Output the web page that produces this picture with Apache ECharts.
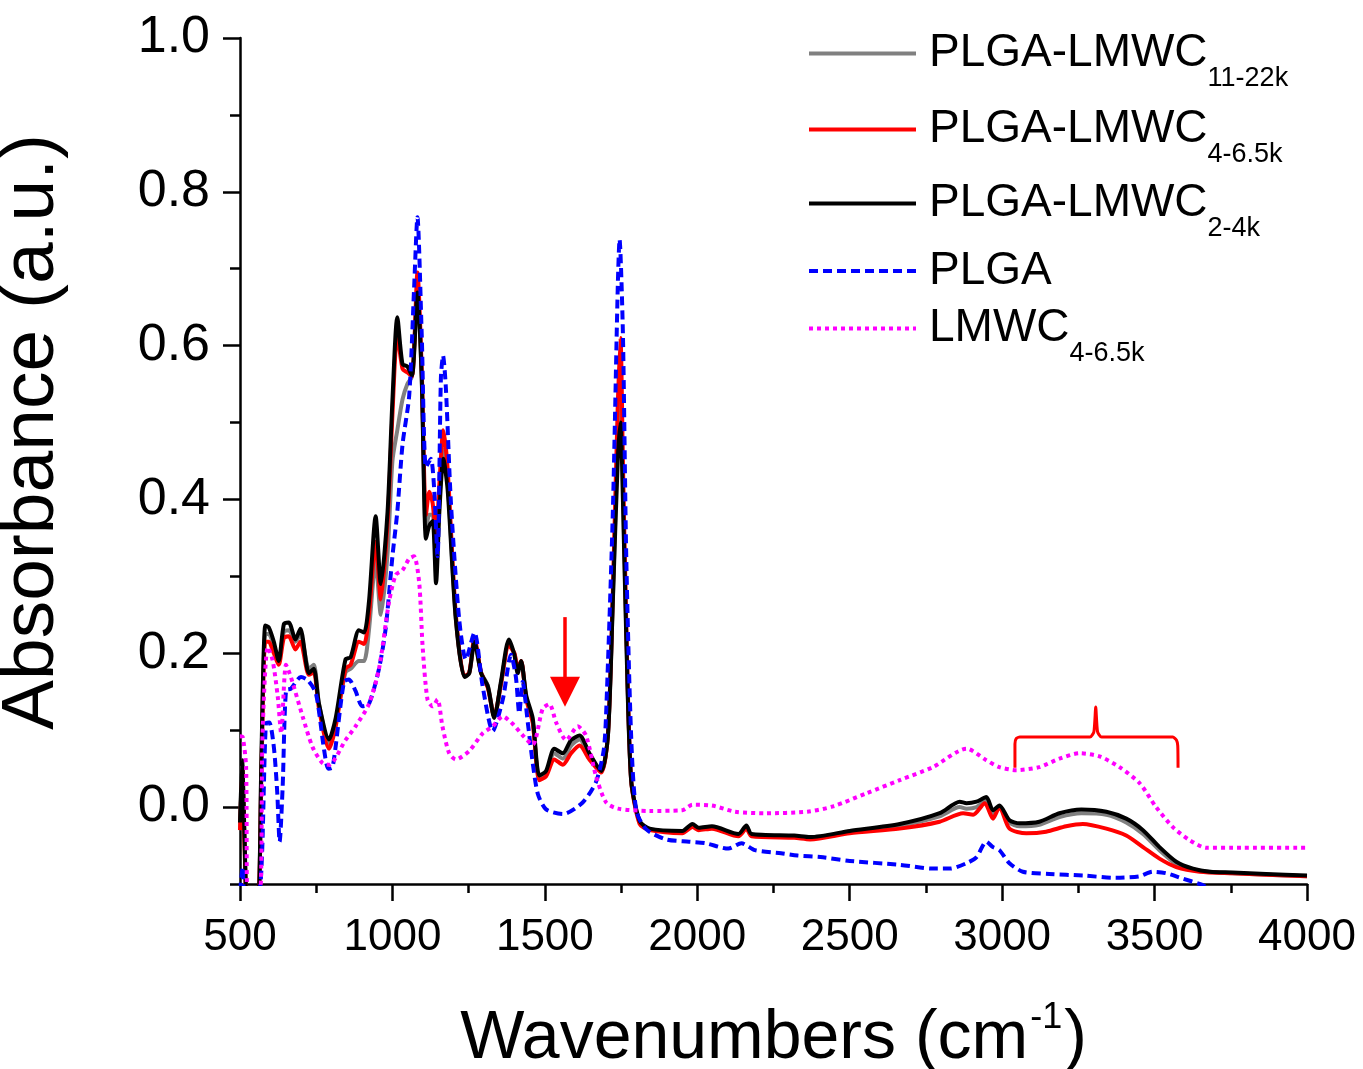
<!DOCTYPE html>
<html>
<head>
<meta charset="utf-8">
<script src="https://cdn.jsdelivr.net/npm/echarts@6/dist/echarts.min.js"></script>
<style>html,body{margin:0;padding:0;background:#fff}#c{width:1363px;height:1069px}</style>
</head>
<body>
<div id="c"></div>
<script>
// ---- data (wavenumber cm^-1, absorbance a.u.) ----
const wnBlack = [500,507,515,523,545,561,570,583,594,611,627,644,660,682,698,726,742,759,792,814,846,863,890,907,923,945,962,984,1000,1016,1033,1049,1064,1082,1096,1110,1121,1132,1143,1154,1167,1181,1208,1236,1252,1269,1291,1313,1334,1356,1382,1400,1411,1422,1439,1460,1482,1504,1531,1559,1586,1614,1646,1685,1707,1723,1739,1748,1756,1767,1783,1811,1844,1951,1984,2005,2048,2135,2161,2178,2318,2370,2500,2664,2795,2861,2883,2916,2948,2970,2991,3024,3057,3122,3188,3260,3342,3407,3462,3516,3571,3626,3681,3756,3866,4000];
const absBlack = [-0.02,0.061,-0.04,-0.13,-0.16,-0.13,0.06,0.236,0.234,0.215,0.19,0.238,0.24,0.218,0.232,0.174,0.18,0.134,0.088,0.116,0.192,0.195,0.23,0.227,0.267,0.378,0.29,0.384,0.529,0.637,0.576,0.573,0.561,0.669,0.558,0.349,0.366,0.372,0.291,0.384,0.453,0.413,0.244,0.169,0.174,0.215,0.174,0.157,0.116,0.163,0.218,0.198,0.174,0.19,0.145,0.116,0.041,0.047,0.076,0.07,0.087,0.093,0.07,0.047,0.093,0.267,0.45,0.50,0.40,0.22,0.035,-0.018,-0.028,-0.031,-0.022,-0.027,-0.025,-0.035,-0.024,-0.035,-0.037,-0.039,-0.031,-0.022,-0.008,0.007,0.005,0.007,0.013,-0.004,0.002,-0.017,-0.021,-0.019,-0.008,-0.003,-0.006,-0.015,-0.030,-0.052,-0.071,-0.080,-0.084,-0.085,-0.087,-0.089];

const wnRed = [500,507,515,523,545,561,570,583,594,611,627,644,660,682,698,726,742,759,792,814,846,863,890,907,923,945,962,984,1000,1016,1033,1049,1064,1082,1096,1110,1121,1132,1143,1154,1167,1181,1208,1236,1252,1269,1291,1313,1334,1356,1382,1400,1411,1422,1439,1460,1482,1504,1531,1559,1586,1614,1646,1685,1707,1723,1739,1748,1756,1767,1783,1811,1844,1951,1984,2005,2048,2135,2161,2178,2318,2370,2500,2664,2795,2872,2905,2943,2970,2991,3024,3079,3144,3210,3265,3342,3407,3462,3516,3571,3648,3756,4000];
const absRed = [-0.03,0.05,-0.05,-0.13,-0.16,-0.13,0.04,0.215,0.215,0.2,0.185,0.22,0.222,0.205,0.215,0.172,0.175,0.128,0.076,0.105,0.18,0.185,0.215,0.212,0.25,0.345,0.27,0.37,0.51,0.615,0.57,0.565,0.56,0.695,0.57,0.38,0.41,0.395,0.35,0.42,0.49,0.44,0.25,0.17,0.175,0.22,0.175,0.155,0.118,0.16,0.21,0.2,0.18,0.19,0.14,0.11,0.035,0.04,0.062,0.055,0.07,0.08,0.062,0.045,0.095,0.28,0.52,0.61,0.45,0.24,0.035,-0.022,-0.03,-0.034,-0.026,-0.03,-0.028,-0.038,-0.028,-0.038,-0.04,-0.042,-0.034,-0.028,-0.019,-0.008,-0.010,0.005,-0.015,0.0,-0.028,-0.034,-0.032,-0.025,-0.022,-0.028,-0.037,-0.052,-0.067,-0.078,-0.084,-0.086,-0.09];

const wnGray = [500,507,515,523,545,561,570,583,594,611,627,644,660,682,698,726,742,759,792,814,846,863,890,907,923,945,962,984,1000,1016,1033,1049,1064,1082,1096,1110,1121,1132,1143,1154,1167,1181,1208,1236,1252,1269,1291,1313,1334,1356,1382,1400,1411,1422,1439,1460,1482,1504,1531,1559,1586,1614,1646,1685,1707,1723,1739,1748,1756,1767,1783,1811,1844,1951,1984,2005,2048,2135,2161,2178,2318,2370,2500,2664,2795,2861,2883,2916,2948,2970,2991,3024,3057,3122,3188,3260,3342,3407,3462,3516,3571,3626,3681,3756,3866,4000];
const absGray = [-0.03,0.055,-0.05,-0.13,-0.16,-0.13,0.05,0.225,0.225,0.21,0.19,0.228,0.23,0.215,0.225,0.18,0.185,0.135,0.082,0.11,0.175,0.18,0.19,0.19,0.23,0.32,0.25,0.33,0.45,0.49,0.53,0.55,0.56,0.665,0.56,0.36,0.38,0.38,0.32,0.4,0.465,0.425,0.245,0.17,0.174,0.215,0.175,0.158,0.117,0.16,0.212,0.2,0.178,0.19,0.142,0.112,0.038,0.044,0.07,0.063,0.08,0.088,0.066,0.046,0.094,0.27,0.48,0.55,0.42,0.23,0.035,-0.02,-0.029,-0.032,-0.024,-0.028,-0.026,-0.036,-0.026,-0.036,-0.038,-0.04,-0.032,-0.024,-0.012,0.0,-0.002,0.0,0.009,-0.008,0.0,-0.02,-0.025,-0.023,-0.013,-0.008,-0.01,-0.02,-0.035,-0.056,-0.074,-0.081,-0.084,-0.086,-0.088,-0.09];

const wnPLGA = [500,509,515,545,569,585,596,611,622,630,640,651,667,700,722,749,776,790,804,841,857,879,901,923,956,978,1000,1016,1033,1055,1071,1082,1096,1110,1126,1137,1148,1159,1166,1175,1192,1219,1241,1269,1296,1329,1362,1389,1405,1416,1427,1444,1460,1477,1504,1559,1624,1668,1693,1701,1723,1739,1745,1756,1767,1783,1800,1833,1898,1973,2027,2102,2145,2189,2275,2329,2404,2500,2664,2773,2828,2883,2916,2948,2970,2991,3024,3068,3155,3265,3374,3450,3494,3538,3593,3648,3700,4000];
const absPLGA = [-0.11,-0.078,-0.12,-0.15,-0.09,0.109,0.11,0.078,0.02,-0.045,0.027,0.152,0.154,0.169,0.165,0.148,0.074,0.05,0.052,0.163,0.166,0.151,0.131,0.134,0.18,0.233,0.326,0.384,0.471,0.535,0.674,0.767,0.616,0.442,0.453,0.413,0.326,0.558,0.587,0.547,0.395,0.244,0.192,0.227,0.157,0.099,0.14,0.198,0.169,0.122,0.163,0.11,0.058,0.017,-0.003,-0.009,0.006,0.033,0.074,0.122,0.384,0.674,0.738,0.616,0.326,0.093,-0.005,-0.029,-0.042,-0.045,-0.047,-0.054,-0.047,-0.056,-0.06,-0.063,-0.065,-0.07,-0.075,-0.08,-0.08,-0.073,-0.065,-0.045,-0.052,-0.056,-0.073,-0.084,-0.087,-0.089,-0.092,-0.09,-0.084,-0.086,-0.093,-0.1,-0.108,-0.12];

const wnLMWC = [500,509,520,525,563,574,591,607,624,635,651,667,706,738,771,792,846,879,923,956,989,1011,1033,1055,1071,1088,1099,1115,1132,1148,1164,1186,1208,1252,1296,1329,1362,1395,1428,1460,1493,1515,1537,1570,1608,1635,1668,1701,1740,1844,1951,1984,2048,2124,2221,2361,2446,2555,2664,2773,2883,2948,2991,3046,3122,3188,3254,3319,3385,3451,3505,3560,3615,3670,3757,4000];
const absLMWC = [0.092,0.091,0.052,-0.12,-0.12,0.096,0.208,0.191,0.143,0.096,0.185,0.169,0.117,0.078,0.057,0.055,0.087,0.105,0.134,0.18,0.267,0.302,0.308,0.323,0.326,0.291,0.209,0.14,0.131,0.14,0.105,0.07,0.062,0.073,0.096,0.105,0.118,0.108,0.093,0.081,0.128,0.134,0.11,0.087,0.105,0.093,0.04,0.006,-0.002,-0.005,-0.004,0.003,0.002,-0.006,-0.008,-0.006,0.001,0.018,0.035,0.052,0.076,0.061,0.052,0.048,0.052,0.063,0.07,0.066,0.052,0.031,0.0,-0.026,-0.043,-0.053,-0.053,-0.053];

// annotations (data coordinates)
const arrowWn = [1566, 1566];
const arrowAbs = [0.247, 0.150];
const bracketWn  = [3042,3042,3046,3058,3288,3301,3307,3313,3326,3560,3572,3576,3577];
const bracketAbs = [0.051,0.082,0.089,0.091,0.091,0.098,0.130,0.098,0.091,0.091,0.087,0.080,0.051];

const seriesNames = ['PLGA-LMWC_11-22k','PLGA-LMWC_4-6.5k','PLGA-LMWC_2-4k','PLGA','LMWC_4-6.5k'];
const yMajorTicks = [0,0.2,0.4,0.6,0.8,1.0];

function pairs(xs, ys){ return xs.map((x,i)=>[x, ys[i]]); }

const FONT = "'Liberation Sans', Arial, Helvetica, sans-serif";
const chart = echarts.init(document.getElementById('c'), null, {renderer:'canvas'});

function lineSeries(name, xs, ys, color, width, type){
  return {
    name, type:'line', data: pairs(xs, ys), xAxisIndex:0, yAxisIndex:0,
    symbol:'none', showSymbol:false, smooth:0.25, clip:true, animation:false,
    lineStyle:{color, width, type, cap:'butt', join:'round'},
    itemStyle:{color}
  };
}

// one legend block per row so that each row can sit where the reference puts it
const legendTops = [15, 91, 165, 248, 290];
const legends = seriesNames.map((n, i) => ({
  orient:'vertical', left:807, top:legendTops[i], padding:0,
  itemWidth:107, itemHeight:14, itemGap:0,
  data:[n], selectedMode:false,
  itemStyle:{color:'rgba(0,0,0,0)', borderColor:'rgba(0,0,0,0)', borderWidth:0},
  lineStyle:{width:4},
  formatter: function(name){
    const p = name.split('_');
    return p.length > 1 ? '{m|' + p[0] + '}{s|' + p[1] + '}' : '{m|' + p[0] + '}';
  },
  textStyle:{
    color:'#000', fontFamily:FONT,
    rich:{
      m:{fontSize:46, lineHeight:50, color:'#000', fontFamily:FONT, padding:[0,0,0,8]},
      s:{fontSize:27, lineHeight:30, color:'#000', fontFamily:FONT, padding:[50,0,0,0]}
    }
  }
}));

const option = {
  backgroundColor:'#fff',
  animation:false,
  textStyle:{fontFamily:FONT},
  grid:{left:240, right:56, top:38, bottom:185, containLabel:false, outerBoundsMode:'none'},
  legend: legends,
  xAxis:[
    {type:'value', min:500, max:4000, interval:250, position:'bottom',
     axisLine:{show:true, onZero:false, lineStyle:{color:'#000', width:2.5}},
     axisTick:{show:true, inside:false, length:9, lineStyle:{color:'#000', width:2.5}},
     axisLabel:{show:false}, splitLine:{show:false}},
    {type:'value', min:500, max:4000, interval:500, position:'bottom',
     axisLine:{show:false, onZero:false},
     axisTick:{show:true, inside:false, length:17, lineStyle:{color:'#000', width:2.5}},
     axisLabel:{show:true, fontSize:44, color:'#000', fontFamily:FONT, margin:32,
       formatter:v=>String(v)},
     splitLine:{show:false},
     name:'{a|Wavenumbers (cm}{s|-1}{a|)}', nameLocation:'middle', nameGap:116,
     nameTextStyle:{color:'#000', fontFamily:FONT,
       rich:{a:{fontSize:68, color:'#000', fontFamily:FONT},
             s:{fontSize:36, color:'#000', fontFamily:FONT, padding:[0,2,42,2]}}}}
  ],
  yAxis:[
    {type:'value', min:-0.1, max:1.0, interval:0.1, position:'left',
     axisLine:{show:true, onZero:false, lineStyle:{color:'#000', width:2.5}},
     axisTick:{show:true, inside:false, length:10, lineStyle:{color:'#000', width:2.5}},
     axisLabel:{show:false}, splitLine:{show:false}},
    {type:'value', min:-0.1, max:1.0, position:'left',
     axisLine:{show:false, onZero:false},
     axisTick:{show:true, inside:false, length:17, customValues:yMajorTicks, lineStyle:{color:'#000', width:2.5}},
     axisLabel:{show:true, customValues:yMajorTicks, fontSize:52, color:'#000', fontFamily:FONT, margin:30,
       formatter:v=>Number(v).toFixed(1)},
     splitLine:{show:false},
     name:'Absorbance (a.u.)', nameLocation:'middle', nameGap:170,
     nameTextStyle:{fontSize:75, color:'#000', fontFamily:FONT, padding:[0,0,0,58]}}
  ],
  series:[
    lineSeries(seriesNames[0], wnGray, absGray, '#808080', 4, 'solid'),
    lineSeries(seriesNames[1], wnRed, absRed, '#ff0000', 4, 'solid'),
    lineSeries(seriesNames[2], wnBlack, absBlack, '#000000', 4, 'solid'),
    lineSeries(seriesNames[3], wnPLGA, absPLGA, '#0000ff', 4, [9,5]),
    lineSeries(seriesNames[4], wnLMWC, absLMWC, '#ff00ff', 4, [4,4]),
    {name:'bracket', type:'line', data:pairs(bracketWn, bracketAbs), symbol:'none', silent:true,
     smooth:0.2, clip:false, lineStyle:{color:'#ff0000', width:3}, itemStyle:{color:'#ff0000'},
     markLine:{silent:true, symbol:['none','triangle'], symbolSize:[30,30], animation:false,
       label:{show:false},
       lineStyle:{color:'#ff0000', width:3.5, type:'solid'},
       data:[[{coord:[arrowWn[0], arrowAbs[0]]},{coord:[arrowWn[1], arrowAbs[1]]}]]}}
  ]
};
chart.setOption(option);
</script>
</body>
</html>
